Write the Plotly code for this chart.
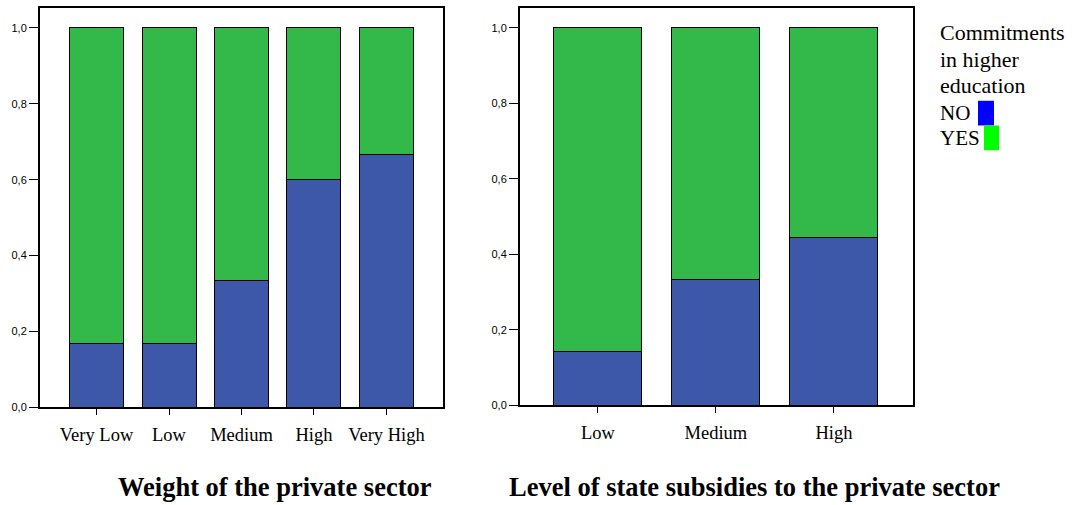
import plotly.graph_objects as go

# Data
cats_left = ["Very Low", "Low", "Medium", "High", "Very High"]
no_left = [0.167, 0.167, 0.333, 0.600, 0.667]
yes_left = [1 - v for v in no_left]

cats_right = ["Low", "Medium", "High"]
no_right = [0.143, 0.333, 0.444]
yes_right = [1 - v for v in no_right]

y_ticks = [0.0, 0.2, 0.4, 0.6, 0.8, 1.0]

title_left = "Weight of the private sector"
title_right = "Level of state subsidies to the private sector"
legend_lines = ["Commitments", "in higher", "education"]
legend_items = ["NO", "YES"]

BLUE = "#3d58a8"
GREEN = "#33b84a"
W, H = 1086, 505

fig = go.Figure()
line = dict(color="black", width=1)
fig.add_bar(x=cats_left, y=no_left, marker=dict(color=BLUE, line=line), width=0.745,
            xaxis="x", yaxis="y", name="NO", showlegend=False)
fig.add_bar(x=cats_left, y=yes_left, marker=dict(color=GREEN, line=line), width=0.745,
            xaxis="x", yaxis="y", name="YES", showlegend=False)
fig.add_bar(x=cats_right, y=no_right, marker=dict(color=BLUE, line=line), width=0.746,
            xaxis="x2", yaxis="y2", name="NO", showlegend=False)
fig.add_bar(x=cats_right, y=yes_right, marker=dict(color=GREEN, line=line), width=0.746,
            xaxis="x2", yaxis="y2", name="YES", showlegend=False)

def px(x):
    return x / W

def py(y):
    return 1 - y / H

xcommon = dict(showline=True, mirror=True, linecolor="black", linewidth=2,
               ticks="outside", ticklen=6, tickcolor="black", tickwidth=1,
               showgrid=False, zeroline=False, ticklabelstandoff=4,
               tickfont=dict(family="Liberation Serif", size=18.5, color="black"))
ycommon = dict(showline=True, mirror=True, linecolor="black", linewidth=2,
               ticks="outside", ticklen=9, tickcolor="black", tickwidth=1,
               showgrid=False, zeroline=False, range=[0, 1.053],
               tickvals=y_ticks, tickformat=".1f",
               tickfont=dict(family="Liberation Sans", size=11, color="black"))

fig.update_layout(
    width=W, height=H,
    margin=dict(l=0, r=0, t=0, b=0),
    paper_bgcolor="white", plot_bgcolor="white",
    barmode="stack", separators=",.",
    xaxis=dict(domain=[px(40), px(443)], range=[-0.78, 4.78], anchor="y", **xcommon),
    yaxis=dict(domain=[py(412), py(8)], anchor="x", **ycommon),
    xaxis2=dict(domain=[px(520), px(913)], range=[-0.66, 2.67], anchor="y2", **xcommon),
    yaxis2=dict(domain=[py(410), py(8)], anchor="x2", **ycommon),
)

fig.add_annotation(text=f"<b>{title_left}</b>", x=px(275), y=py(493), xref="paper", yref="paper",
                   showarrow=False, xanchor="center", yanchor="middle",
                   font=dict(family="Liberation Serif", size=26.5, color="black"))
fig.add_annotation(text=f"<b>{title_right}</b>", x=px(754), y=py(493), xref="paper", yref="paper",
                   showarrow=False, xanchor="center", yanchor="middle",
                   font=dict(family="Liberation Serif", size=26.5, color="black"))

# Legend (manual)
for txt, yy in zip(legend_lines, [33, 60, 87]):
    fig.add_annotation(text=txt, x=px(938), y=py(yy), xref="paper", yref="paper",
                       showarrow=False, xanchor="left", yanchor="middle", align="left",
                       font=dict(family="Liberation Serif", size=22, color="black"))
for txt, yy in zip(legend_items, [114, 140]):
    fig.add_annotation(text=txt, x=px(938), y=py(yy), xref="paper", yref="paper",
                       showarrow=False, xanchor="left", yanchor="middle",
                       font=dict(family="Liberation Serif", size=21, color="black"))
fig.add_shape(type="rect", xref="paper", yref="paper", x0=px(978), x1=px(994), y0=py(127), y1=py(102),
              fillcolor="#0000ff", line=dict(width=0))
fig.add_shape(type="rect", xref="paper", yref="paper", x0=px(984), x1=px(999), y0=py(152), y1=py(127),
              fillcolor="#00ff00", line=dict(width=0))

fig.write_html("out.html", config={"displayModeBar": False},
               post_script="document.body.style.margin='0';document.body.style.padding='0';")
